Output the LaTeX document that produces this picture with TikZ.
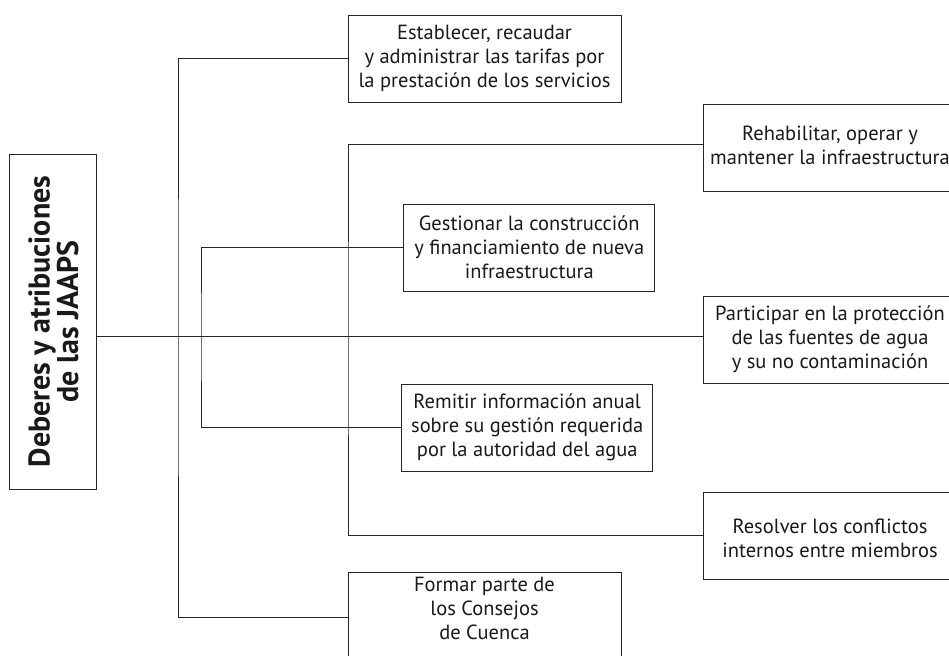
\documentclass[tikz,border=0pt]{standalone}
\usepackage{fontspec}
\setmainfont{PT Sans}
\begin{document}
\begin{tikzpicture}[x=1pt,y=-1pt,
  boxshape/.style={draw=black!85, line width=0.9pt, inner sep=0pt},
  box/.style={boxshape, align=center, text=black!90, font=\fontsize{20.5}{24}\selectfont},
  txt/.style={align=center, text=black!90, inner sep=0pt, font=\fontsize{20.5}{24}\selectfont},
  conn/.style={draw=black!85, line width=0.9pt}]
\useasboundingbox (0,0) rectangle (949,655);
\clip (0,0) rectangle (949,655);
% title box
\node[boxshape, minimum width=87, minimum height=335] (title) at (52.5,321.5) {};
\node[rotate=90, align=center, text=black!90, inner sep=0pt, font=\bfseries\fontsize{30}{27}\selectfont] (titletext) at ([xshift=1pt]title.center) {Deberes y atribuciones\\de las JAAPS};
% boxes
\node[box, minimum width=273, minimum height=87] (est) at (484.5,58.5) {Establecer, recaudar\\y administrar las tarifas por\\la prestación de los servicios};
\node[boxshape, minimum width=260, minimum height=87, anchor=west] (rehab) at (703,148.3) {};
\node[txt] (rehabtext) at (830,145.5) {Rehabilitar, operar y\\mantener la infraestructura};
\node[box, minimum width=251, minimum height=87] (gest) at (529.3,247.5) {Gestionar la construcción\\y financiamiento de nueva\\infraestructura};
\node[boxshape, minimum width=260, minimum height=87, anchor=west] (part) at (703,339.5) {};
\node[txt] (parttext) at (830,339.5) {Participar en la protección\\de las fuentes de agua\\y su no contaminación};
\node[box, minimum width=251, minimum height=87] (remit) at (527.2,427.5) {Remitir información anual\\sobre su gestión requerida\\por la autoridad del agua};
\node[boxshape, minimum width=260, minimum height=87, anchor=west] (resol) at (703,535.5) {};
\node[txt] (resoltext) at (830,538.5) {Resolver los conflictos\\internos entre miembros};
\node[boxshape, minimum width=273, minimum height=90, anchor=north] (form) at (484.5,572) {};
\node[txt] (formtext) at (484.5,608.5) {Formar parte de\\los Consejos\\de Cuenca};
% trunks
\coordinate (tA) at (178,336.7);
\coordinate (tB) at (201,336.7);
\coordinate (tC) at (348,336.7);
% connectors
\draw[conn] (title.east |- tA) -- (part.west |- tA);
\draw[conn] (est.west) -| (tA) |- (form.west);
\draw[conn] (gest.west) -| (tB) |- (remit.west);
\draw[conn] ([yshift=4pt]rehab.west) -| (tC) |- (resol.west);
\end{tikzpicture}
\end{document}
